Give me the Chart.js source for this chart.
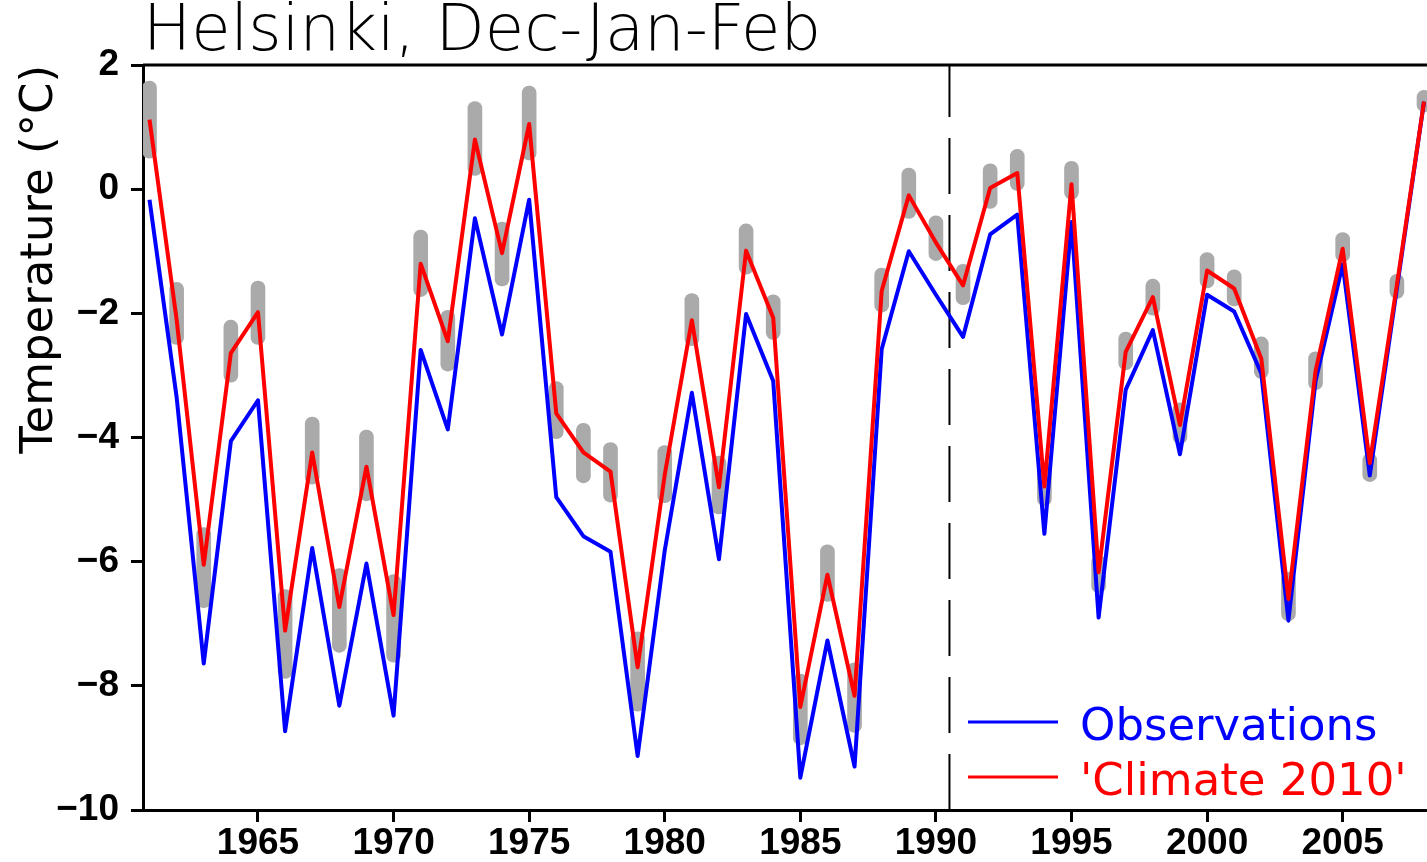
<!DOCTYPE html>
<html>
<head>
<meta charset="utf-8">
<script src="https://cdn.jsdelivr.net/npm/chart.js@4/dist/chart.umd.min.js"></script>
<style>
  html, body { margin: 0; padding: 0; background: #fff; }
  #wrap { width: 1427px; height: 862px; }
</style>
</head>
<body>
<div id="wrap"><canvas id="chart" width="1427" height="862"></canvas></div>
<script>
// years on the x axis
const years = [1961, 1962, 1963, 1964, 1965, 1966, 1967, 1968, 1969, 1970,
  1971, 1972, 1973, 1974, 1975, 1976, 1977, 1978, 1979, 1980,
  1981, 1982, 1983, 1984, 1985, 1986, 1987, 1988, 1989, 1990,
  1991, 1992, 1993, 1994, 1995, 1996, 1997, 1998, 1999, 2000,
  2001, 2002, 2003, 2004, 2005, 2006, 2007, 2008];

// observed DJF mean temperature (blue)
const observations = [-0.17, -3.35, -7.64, -4.06, -3.40, -8.73, -5.78, -8.32, -6.03, -8.48,
  -2.59, -3.87, -0.47, -2.34, -0.17, -4.96, -5.59, -5.84, -9.13, -5.82,
  -3.28, -5.96, -2.01, -3.09, -9.48, -7.27, -9.30, -2.58, -1.00, -1.70,
  -2.38, -0.73, -0.41, -5.55, -0.53, -6.90, -3.23, -2.27, -4.27, -1.70,
  -1.97, -2.97, -6.95, -3.09, -1.21, -4.61, -1.60, 1.41];

// 'Climate 2010' estimate (red)
const climate2010 = [1.12, -2.10, -6.05, -2.64, -1.98, -7.11, -4.24, -6.73, -4.47, -6.86,
  -1.20, -2.45, 0.80, -1.03, 1.05, -3.61, -4.24, -4.55, -7.70, -4.60,
  -2.11, -4.80, -0.99, -2.07, -8.34, -6.21, -8.16, -1.64, -0.10, -0.86,
  -1.55, 0.02, 0.26, -4.79, 0.08, -6.17, -2.62, -1.74, -3.80, -1.31,
  -1.60, -2.73, -6.60, -2.93, -0.96, -4.41, -1.54, 1.41];

// grey ensemble spread: lowest and highest member per year
const ensembleLow = [0.50, -2.50, -6.74, -3.11, -2.50, -7.88, -4.75, -7.46, -5.02, -7.62,
  -1.73, -2.93, 0.22, -1.56, 0.47, -4.02, -4.73, -5.04, -8.41, -5.05,
  -2.52, -5.23, -1.37, -2.42, -8.95, -6.64, -8.75, -1.98, -0.47, -1.15,
  -1.86, -0.31, -0.02, -5.10, -0.16, -6.50, -2.91, -2.03, -4.10, -1.59,
  -1.88, -3.05, -6.95, -3.23, -1.17, -4.71, -1.76, 1.25];
const ensembleHigh = [1.74, -1.50, -5.45, -2.11, -1.48, -6.45, -3.67, -6.11, -3.88, -6.21,
  -0.66, -1.95, 1.41, -0.53, 1.66, -3.10, -3.77, -4.08, -7.13, -4.13,
  -1.68, -4.30, -0.56, -1.70, -7.81, -5.73, -7.63, -1.27, 0.34, -0.43,
  -1.21, 0.41, 0.64, -4.40, 0.45, -5.90, -2.30, -1.45, -3.44, -1.02,
  -1.30, -2.38, -6.17, -2.62, -0.70, -4.26, -1.37, 1.59];

const xTicks = [1965, 1970, 1975, 1980, 1985, 1990, 1995, 2000, 2005];
const yTicks = [2, 0, -2, -4, -6, -8, -10];
const xMin = 1960.76, xMax = 2008.11;
const yMin = -10, yMax = 2;
const splitYear = 1990.5;

const minus = v => (v < 0 ? '\u2212' + Math.abs(v) : String(v));

// legend drawn inside the plot, lower right
const cornerLegend = {
  id: 'cornerLegend',
  afterDatasetsDraw(chart) {
    const { ctx, chartArea } = chart;
    const items = chart.data.datasets.filter(d => d.inLegend);
    ctx.save();
    ctx.font = '45px "DejaVu Sans"';
    ctx.textBaseline = 'alphabetic';
    items.forEach((d, i) => {
      const y = chartArea.bottom - 88 + i * 55;
      ctx.strokeStyle = d.borderColor;
      ctx.lineWidth = 3;
      ctx.beginPath();
      ctx.moveTo(chartArea.right - 459, y);
      ctx.lineTo(chartArea.right - 369, y);
      ctx.stroke();
      ctx.fillStyle = d.borderColor;
      ctx.fillText(d.label, chartArea.right - 347, y + 18);
    });
    // frame line along the top
    ctx.strokeStyle = '#000';
    ctx.lineWidth = 3;
    ctx.beginPath();
    ctx.moveTo(chartArea.left, chartArea.top);
    ctx.lineTo(chartArea.right, chartArea.top);
    ctx.stroke();
    ctx.restore();
  }
};

const tickFont = { family: 'Liberation Sans', weight: 'bold', size: 37 };

new Chart(document.getElementById('chart'), {
  data: {
    datasets: [
      {
        type: 'bar',
        label: 'ensemble',
        data: years.map((y, i) => ({ x: y, y: [ensembleLow[i], ensembleHigh[i]] })),
        backgroundColor: '#aaaaaa',
        barThickness: 14,
        borderRadius: 7,
        borderSkipped: false,
        grouped: false,
        order: 4
      },
      {
        type: 'line',
        label: 'split',
        data: [{ x: splitYear, y: yMin }, { x: splitYear, y: yMax }],
        borderColor: '#000',
        borderWidth: 2,
        borderDash: [56, 21],
        pointRadius: 0,
        order: 5
      },
      {
        type: 'line',
        label: 'Observations',
        inLegend: true,
        data: years.map((y, i) => ({ x: y, y: observations[i] })),
        borderColor: '#0000ff',
        borderWidth: 4,
        borderJoinStyle: 'round',
        pointRadius: 0,
        tension: 0,
        order: 2
      },
      {
        type: 'line',
        label: "'Climate 2010'",
        inLegend: true,
        data: years.map((y, i) => ({ x: y, y: climate2010[i] })),
        borderColor: '#ff0000',
        borderWidth: 4,
        borderJoinStyle: 'round',
        pointRadius: 0,
        tension: 0,
        order: 1
      }
    ]
  },
  options: {
    responsive: false,
    animation: false,
    layout: { padding: 0 },
    plugins: {
      legend: { display: false },
      tooltip: { enabled: false },
      title: {
        display: true,
        text: 'Helsinki, Dec-Jan-Feb',
        align: 'start',
        fullSize: false,
        color: '#000',
        font: { family: 'DejaVu Sans', size: 64, weight: 200, lineHeight: 1 },
        padding: { top: 1, bottom: 0 }
      }
    },
    scales: {
      x: {
        type: 'linear',
        min: xMin,
        max: xMax,
        offset: false,
        afterBuildTicks: s => { s.ticks = xTicks.map(v => ({ value: v })); },
        afterFit: s => { s.height = 52; },
        ticks: {
          color: '#000',
          font: tickFont,
          padding: 0,
          maxRotation: 0,
          callback: v => String(v)
        },
        grid: { offset: false, drawOnChartArea: false, drawTicks: true, tickLength: 12, color: '#000', lineWidth: 3 },
        border: { display: true, color: '#000', width: 3 }
      },
      y: {
        type: 'linear',
        min: yMin,
        max: yMax,
        afterBuildTicks: s => { s.ticks = yTicks.map(v => ({ value: v })); },
        afterFit: s => { s.width = 143; },
        ticks: {
          color: '#000',
          font: tickFont,
          padding: 12,
          callback: v => minus(v)
        },
        grid: { drawOnChartArea: false, drawTicks: true, tickLength: 12, color: '#000', lineWidth: 3 },
        border: { display: true, color: '#000', width: 3 },
        title: {
          display: true,
          text: 'Temperature (°C)',
          align: 'end',
          color: '#000',
          font: { family: 'DejaVu Sans', size: 45, weight: 'normal', lineHeight: 1.2 },
          padding: { top: 13, bottom: 0 }
        }
      }
    }
  },
  plugins: [cornerLegend]
});
</script>
</body>
</html>
